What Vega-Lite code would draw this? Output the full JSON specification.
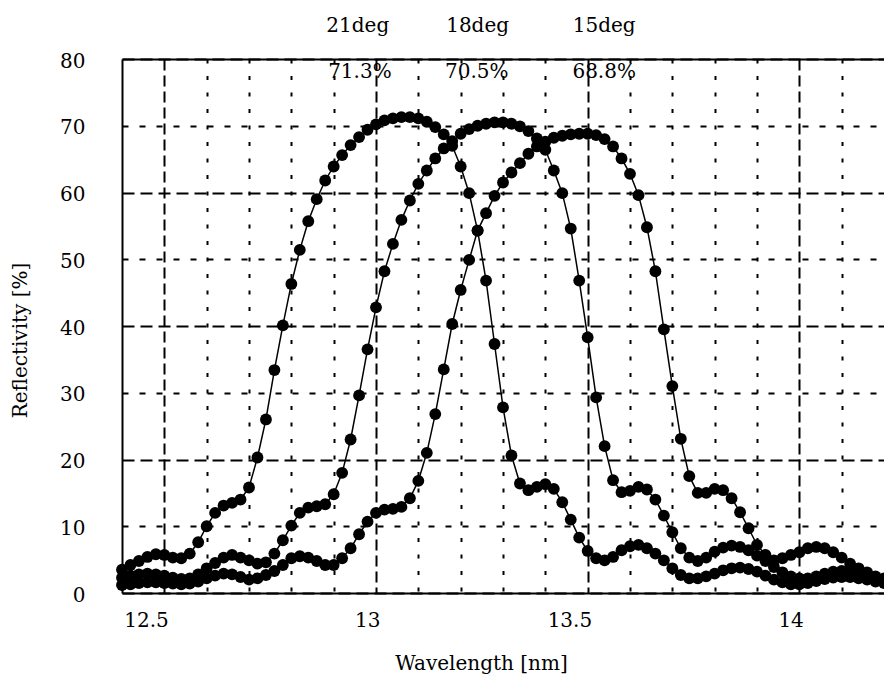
{
"$schema": "https://vega.github.io/schema/vega-lite/v6.json",
"width": 762, "height": 534,
"autosize": {"type": "none"},
"padding": {"left": 122, "top": 59, "right": 0, "bottom": 84},
"background": "white",
"config": {"view": {"stroke": null}, "font": "DejaVu Serif"},
"datasets": {
"curves": [
{"deg":"21","nm":12.40,"R":3.5},{"deg":"21","nm":12.42,"R":4.2},{"deg":"21","nm":12.44,"R":4.8},{"deg":"21","nm":12.46,"R":5.4},{"deg":"21","nm":12.48,"R":5.8},{"deg":"21","nm":12.50,"R":5.7},{"deg":"21","nm":12.52,"R":5.3},{"deg":"21","nm":12.54,"R":5.2},{"deg":"21","nm":12.56,"R":5.9},{"deg":"21","nm":12.58,"R":7.6},
{"deg":"21","nm":12.60,"R":10.0},{"deg":"21","nm":12.62,"R":12.0},{"deg":"21","nm":12.64,"R":13.1},{"deg":"21","nm":12.66,"R":13.5},{"deg":"21","nm":12.68,"R":14.0},{"deg":"21","nm":12.70,"R":15.8},{"deg":"21","nm":12.72,"R":20.3},{"deg":"21","nm":12.74,"R":26.0},{"deg":"21","nm":12.76,"R":33.4},{"deg":"21","nm":12.78,"R":40.1},
{"deg":"21","nm":12.80,"R":46.3},{"deg":"21","nm":12.82,"R":51.4},{"deg":"21","nm":12.84,"R":55.7},{"deg":"21","nm":12.86,"R":59.0},{"deg":"21","nm":12.88,"R":61.8},{"deg":"21","nm":12.90,"R":63.9},{"deg":"21","nm":12.92,"R":65.6},{"deg":"21","nm":12.94,"R":67.1},{"deg":"21","nm":12.96,"R":68.3},{"deg":"21","nm":12.98,"R":69.4},
{"deg":"21","nm":13.00,"R":70.2},{"deg":"21","nm":13.02,"R":70.8},{"deg":"21","nm":13.04,"R":71.1},{"deg":"21","nm":13.06,"R":71.3},{"deg":"21","nm":13.08,"R":71.3},{"deg":"21","nm":13.10,"R":71.1},{"deg":"21","nm":13.12,"R":70.6},{"deg":"21","nm":13.14,"R":69.8},{"deg":"21","nm":13.16,"R":68.7},{"deg":"21","nm":13.18,"R":67.0},
{"deg":"21","nm":13.20,"R":63.9},{"deg":"21","nm":13.22,"R":59.9},{"deg":"21","nm":13.24,"R":54.3},{"deg":"21","nm":13.26,"R":46.8},{"deg":"21","nm":13.28,"R":37.3},{"deg":"21","nm":13.30,"R":27.8},{"deg":"21","nm":13.32,"R":20.6},{"deg":"21","nm":13.34,"R":16.4},{"deg":"21","nm":13.36,"R":15.4},{"deg":"21","nm":13.38,"R":15.9},
{"deg":"21","nm":13.40,"R":16.3},{"deg":"21","nm":13.42,"R":15.6},{"deg":"21","nm":13.44,"R":13.6},{"deg":"21","nm":13.46,"R":11.0},{"deg":"21","nm":13.48,"R":8.3},{"deg":"21","nm":13.50,"R":6.3},{"deg":"21","nm":13.52,"R":5.2},{"deg":"21","nm":13.54,"R":4.9},{"deg":"21","nm":13.56,"R":5.4},{"deg":"21","nm":13.58,"R":6.4},
{"deg":"21","nm":13.60,"R":7.0},{"deg":"21","nm":13.62,"R":7.2},{"deg":"21","nm":13.64,"R":6.7},{"deg":"21","nm":13.66,"R":5.9},{"deg":"21","nm":13.68,"R":4.9},{"deg":"21","nm":13.70,"R":3.7},{"deg":"21","nm":13.72,"R":2.7},{"deg":"21","nm":13.74,"R":2.2},{"deg":"21","nm":13.76,"R":2.2},{"deg":"21","nm":13.78,"R":2.5},
{"deg":"21","nm":13.80,"R":2.9},{"deg":"21","nm":13.82,"R":3.4},{"deg":"21","nm":13.84,"R":3.7},{"deg":"21","nm":13.86,"R":3.8},{"deg":"21","nm":13.88,"R":3.6},{"deg":"21","nm":13.90,"R":3.2},{"deg":"21","nm":13.92,"R":2.6},{"deg":"21","nm":13.94,"R":2.0},{"deg":"21","nm":13.96,"R":1.6},{"deg":"21","nm":13.98,"R":1.3},
{"deg":"21","nm":14.00,"R":1.3},{"deg":"21","nm":14.02,"R":1.5},{"deg":"21","nm":14.04,"R":1.8},{"deg":"21","nm":14.06,"R":2.1},{"deg":"21","nm":14.08,"R":2.3},{"deg":"21","nm":14.10,"R":2.4},{"deg":"21","nm":14.12,"R":2.4},{"deg":"21","nm":14.14,"R":2.2},{"deg":"21","nm":14.16,"R":2.0},{"deg":"21","nm":14.18,"R":1.7},{"deg":"21","nm":14.20,"R":1.5},
{"deg":"18","nm":12.40,"R":2.3},{"deg":"18","nm":12.42,"R":2.6},{"deg":"18","nm":12.44,"R":2.8},{"deg":"18","nm":12.46,"R":2.9},{"deg":"18","nm":12.48,"R":2.8},{"deg":"18","nm":12.50,"R":2.6},{"deg":"18","nm":12.52,"R":2.3},{"deg":"18","nm":12.54,"R":2.1},{"deg":"18","nm":12.56,"R":2.2},{"deg":"18","nm":12.58,"R":2.8},
{"deg":"18","nm":12.60,"R":3.7},{"deg":"18","nm":12.62,"R":4.5},{"deg":"18","nm":12.64,"R":5.3},{"deg":"18","nm":12.66,"R":5.7},{"deg":"18","nm":12.68,"R":5.3},{"deg":"18","nm":12.70,"R":4.9},{"deg":"18","nm":12.72,"R":4.4},{"deg":"18","nm":12.74,"R":4.6},{"deg":"18","nm":12.76,"R":5.9},{"deg":"18","nm":12.78,"R":7.9},
{"deg":"18","nm":12.80,"R":10.1},{"deg":"18","nm":12.82,"R":12.0},{"deg":"18","nm":12.84,"R":12.8},{"deg":"18","nm":12.86,"R":13.0},{"deg":"18","nm":12.88,"R":13.3},{"deg":"18","nm":12.90,"R":14.8},{"deg":"18","nm":12.92,"R":18.0},{"deg":"18","nm":12.94,"R":23.0},{"deg":"18","nm":12.96,"R":29.6},{"deg":"18","nm":12.98,"R":36.5},
{"deg":"18","nm":13.00,"R":42.8},{"deg":"18","nm":13.02,"R":48.2},{"deg":"18","nm":13.04,"R":52.3},{"deg":"18","nm":13.06,"R":55.9},{"deg":"18","nm":13.08,"R":58.8},{"deg":"18","nm":13.10,"R":61.3},{"deg":"18","nm":13.12,"R":63.3},{"deg":"18","nm":13.14,"R":65.1},{"deg":"18","nm":13.16,"R":66.6},{"deg":"18","nm":13.18,"R":67.7},
{"deg":"18","nm":13.20,"R":68.8},{"deg":"18","nm":13.22,"R":69.5},{"deg":"18","nm":13.24,"R":70.0},{"deg":"18","nm":13.26,"R":70.3},{"deg":"18","nm":13.28,"R":70.5},{"deg":"18","nm":13.30,"R":70.5},{"deg":"18","nm":13.32,"R":70.3},{"deg":"18","nm":13.34,"R":69.9},{"deg":"18","nm":13.36,"R":69.2},{"deg":"18","nm":13.38,"R":68.1},
{"deg":"18","nm":13.40,"R":66.4},{"deg":"18","nm":13.42,"R":63.3},{"deg":"18","nm":13.44,"R":59.9},{"deg":"18","nm":13.46,"R":54.6},{"deg":"18","nm":13.48,"R":46.8},{"deg":"18","nm":13.50,"R":38.3},{"deg":"18","nm":13.52,"R":29.3},{"deg":"18","nm":13.54,"R":22.0},{"deg":"18","nm":13.56,"R":16.9},{"deg":"18","nm":13.58,"R":15.1},
{"deg":"18","nm":13.60,"R":15.3},{"deg":"18","nm":13.62,"R":15.9},{"deg":"18","nm":13.64,"R":15.5},{"deg":"18","nm":13.66,"R":14.0},{"deg":"18","nm":13.68,"R":11.6},{"deg":"18","nm":13.70,"R":9.1},{"deg":"18","nm":13.72,"R":6.7},{"deg":"18","nm":13.74,"R":5.3},{"deg":"18","nm":13.76,"R":4.8},{"deg":"18","nm":13.78,"R":5.3},
{"deg":"18","nm":13.80,"R":6.2},{"deg":"18","nm":13.82,"R":6.8},{"deg":"18","nm":13.84,"R":7.1},{"deg":"18","nm":13.86,"R":6.9},{"deg":"18","nm":13.88,"R":6.4},{"deg":"18","nm":13.90,"R":5.6},{"deg":"18","nm":13.92,"R":4.8},{"deg":"18","nm":13.94,"R":3.9},{"deg":"18","nm":13.96,"R":3.1},{"deg":"18","nm":13.98,"R":2.5},
{"deg":"18","nm":14.00,"R":2.2},{"deg":"18","nm":14.02,"R":2.2},{"deg":"18","nm":14.04,"R":2.5},{"deg":"18","nm":14.06,"R":2.9},{"deg":"18","nm":14.08,"R":3.2},{"deg":"18","nm":14.10,"R":3.3},{"deg":"18","nm":14.12,"R":3.2},{"deg":"18","nm":14.14,"R":2.9},{"deg":"18","nm":14.16,"R":2.6},{"deg":"18","nm":14.18,"R":2.2},{"deg":"18","nm":14.20,"R":1.9},
{"deg":"15","nm":12.40,"R":1.2},{"deg":"15","nm":12.42,"R":1.3},{"deg":"15","nm":12.44,"R":1.5},{"deg":"15","nm":12.46,"R":1.6},{"deg":"15","nm":12.48,"R":1.6},{"deg":"15","nm":12.50,"R":1.5},{"deg":"15","nm":12.52,"R":1.4},{"deg":"15","nm":12.54,"R":1.3},{"deg":"15","nm":12.56,"R":1.4},{"deg":"15","nm":12.58,"R":1.7},
{"deg":"15","nm":12.60,"R":2.2},{"deg":"15","nm":12.62,"R":2.6},{"deg":"15","nm":12.64,"R":2.9},{"deg":"15","nm":12.66,"R":2.8},{"deg":"15","nm":12.68,"R":2.4},{"deg":"15","nm":12.70,"R":2.0},{"deg":"15","nm":12.72,"R":2.2},{"deg":"15","nm":12.74,"R":2.7},{"deg":"15","nm":12.76,"R":3.3},{"deg":"15","nm":12.78,"R":4.2},
{"deg":"15","nm":12.80,"R":5.2},{"deg":"15","nm":12.82,"R":5.5},{"deg":"15","nm":12.84,"R":5.3},{"deg":"15","nm":12.86,"R":4.8},{"deg":"15","nm":12.88,"R":4.2},{"deg":"15","nm":12.90,"R":4.2},{"deg":"15","nm":12.92,"R":5.2},{"deg":"15","nm":12.94,"R":6.7},{"deg":"15","nm":12.96,"R":8.8},{"deg":"15","nm":12.98,"R":10.7},
{"deg":"15","nm":13.00,"R":12.0},{"deg":"15","nm":13.02,"R":12.5},{"deg":"15","nm":13.04,"R":12.6},{"deg":"15","nm":13.06,"R":12.9},{"deg":"15","nm":13.08,"R":14.2},{"deg":"15","nm":13.10,"R":16.8},{"deg":"15","nm":13.12,"R":21.0},{"deg":"15","nm":13.14,"R":26.8},{"deg":"15","nm":13.16,"R":33.5},{"deg":"15","nm":13.18,"R":40.3},
{"deg":"15","nm":13.20,"R":45.4},{"deg":"15","nm":13.22,"R":49.9},{"deg":"15","nm":13.24,"R":54.3},{"deg":"15","nm":13.26,"R":56.9},{"deg":"15","nm":13.28,"R":59.5},{"deg":"15","nm":13.30,"R":61.5},{"deg":"15","nm":13.32,"R":63.0},{"deg":"15","nm":13.34,"R":64.4},{"deg":"15","nm":13.36,"R":65.8},{"deg":"15","nm":13.38,"R":66.9},
{"deg":"15","nm":13.40,"R":67.6},{"deg":"15","nm":13.42,"R":68.2},{"deg":"15","nm":13.44,"R":68.5},{"deg":"15","nm":13.46,"R":68.7},{"deg":"15","nm":13.48,"R":68.8},{"deg":"15","nm":13.50,"R":68.8},{"deg":"15","nm":13.52,"R":68.6},{"deg":"15","nm":13.54,"R":68.0},{"deg":"15","nm":13.56,"R":66.9},{"deg":"15","nm":13.58,"R":65.1},
{"deg":"15","nm":13.60,"R":62.8},{"deg":"15","nm":13.62,"R":59.6},{"deg":"15","nm":13.64,"R":54.8},{"deg":"15","nm":13.66,"R":48.2},{"deg":"15","nm":13.68,"R":39.5},{"deg":"15","nm":13.70,"R":31.0},{"deg":"15","nm":13.72,"R":23.1},{"deg":"15","nm":13.74,"R":17.5},{"deg":"15","nm":13.76,"R":15.0},{"deg":"15","nm":13.78,"R":15.0},
{"deg":"15","nm":13.80,"R":15.6},{"deg":"15","nm":13.82,"R":15.4},{"deg":"15","nm":13.84,"R":14.2},{"deg":"15","nm":13.86,"R":12.1},{"deg":"15","nm":13.88,"R":9.7},{"deg":"15","nm":13.90,"R":7.2},{"deg":"15","nm":13.92,"R":5.7},{"deg":"15","nm":13.94,"R":4.9},{"deg":"15","nm":13.96,"R":5.2},{"deg":"15","nm":13.98,"R":5.7},
{"deg":"15","nm":14.00,"R":6.1},{"deg":"15","nm":14.02,"R":6.7},{"deg":"15","nm":14.04,"R":6.9},{"deg":"15","nm":14.06,"R":6.7},{"deg":"15","nm":14.08,"R":6.1},{"deg":"15","nm":14.10,"R":5.3},{"deg":"15","nm":14.12,"R":4.4},{"deg":"15","nm":14.14,"R":3.7},{"deg":"15","nm":14.16,"R":3.1},{"deg":"15","nm":14.18,"R":2.5},{"deg":"15","nm":14.20,"R":2.2}
],
"notes": [
{"nm":12.957,"R":85,"label":"21deg"},{"nm":13.24,"R":85,"label":"18deg"},{"nm":13.539,"R":85,"label":"15deg"},
{"nm":12.962,"R":78,"label":"71.3%"},{"nm":13.238,"R":78,"label":"70.5%"},{"nm":13.539,"R":78,"label":"68.8%"}
]
},
"layer": [
{
"data": {"name": "curves"},
"mark": {"type": "line", "color": "black", "strokeWidth": 1.5},
"encoding": {
"x": {"field": "nm", "type": "quantitative",
"scale": {"domain": [12.4, 14.2], "nice": false, "zero": false},
"axis": {"orient": "bottom",
"values": [12.5,12.6,12.7,12.8,12.9,13,13.1,13.2,13.3,13.4,13.5,13.6,13.7,13.8,13.9,14,14.1],
"format": "~g",
"labelExpr": "abs(datum.value*2 - round(datum.value*2)) < 0.001 ? datum.label : ''",
"labelFont": "DejaVu Serif", "labelFontSize": 20, "labelColor": "black",
"labelAlign": "right", "labelOffset": 4, "labelPadding": 17, "labelBaseline": "top",
"labelFlush": false, "labelOverlap": false, "labelBound": false,
"ticks": false, "tickSize": 0,
"domain": true, "domainColor": "black", "domainWidth": 2,
"grid": true, "gridColor": "black", "gridOpacity": 1, "gridWidth": 2,
"gridDash": {"condition": {"test": "abs(datum.value*2 - round(datum.value*2)) < 0.001", "value": [11, 5]}, "value": [4, 12.5]},
"title": "Wavelength [nm]", "titleFont": "DejaVu Serif", "titleFontSize": 20, "titleFontWeight": "normal", "titleColor": "black",
"titleX": 359, "titleY": 76, "titleAlign": "center", "titleBaseline": "alphabetic"}},
"y": {"field": "R", "type": "quantitative",
"scale": {"domain": [0, 80], "nice": false},
"axis": {"values": [0,10,20,30,40,50,60,70,80],
"labelFont": "DejaVu Serif", "labelFontSize": 20, "labelColor": "black",
"labelPadding": 37, "labelBaseline": "middle", "labelOffset": 2, "labelFlush": false, "labelBound": false,
"ticks": false, "tickSize": 0,
"domain": true, "domainColor": "black", "domainWidth": 2,
"grid": true, "gridColor": "black", "gridOpacity": 1, "gridWidth": 2,
"gridDash": {"condition": {"test": "datum.value % 20 === 0", "value": [12, 6]}, "value": [6, 11]},
"title": "Reflectivity [%]", "titleFont": "DejaVu Serif", "titleFontSize": 20, "titleFontWeight": "normal", "titleColor": "black",
"titleAngle": 270, "titleX": -96, "titleY": 281, "titleAlign": "center", "titleBaseline": "alphabetic"}},
"detail": {"field": "deg"}
}
},
{
"data": {"name": "curves"},
"mark": {"type": "point", "filled": true, "color": "black", "size": 140, "opacity": 1},
"encoding": {
"x": {"field": "nm", "type": "quantitative",
"axis": {"orient": "top", "labels": false, "ticks": false, "grid": false, "domain": true, "domainColor": "black", "domainWidth": 2, "title": null}},
"y": {"field": "R", "type": "quantitative", "axis": null}
}
},
{
"data": {"name": "notes"},
"mark": {"type": "text", "font": "DejaVu Serif", "fontSize": 20, "color": "black", "baseline": "middle", "align": "center"},
"encoding": {
"x": {"field": "nm", "type": "quantitative", "axis": null},
"y": {"field": "R", "type": "quantitative", "axis": null},
"text": {"field": "label"}
}
}
],
"resolve": {"axis": {"x": "independent", "y": "independent"}}
}
